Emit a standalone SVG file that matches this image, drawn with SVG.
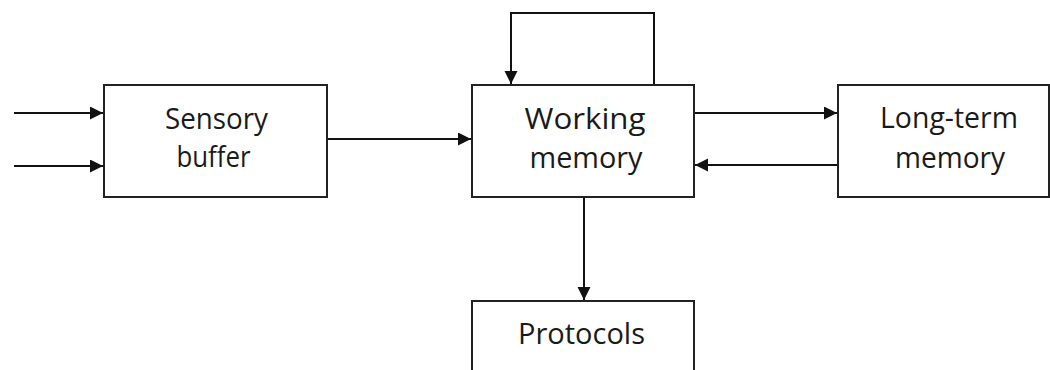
<svg xmlns="http://www.w3.org/2000/svg" width="1050" height="370" viewBox="0 0 1050 370">
<style>
.box{fill:#fff;stroke:#222;stroke-width:2}
.lbl{font-family:"Open Sans","Noto Sans","Liberation Sans",sans-serif;font-size:30px;fill:#1a1a1a;text-anchor:middle}
.con{fill:none;stroke:#111;stroke-width:2}
</style>
<defs>
<marker id="ah" markerWidth="15" markerHeight="15" refX="13" refY="6.5" orient="auto" markerUnits="userSpaceOnUse">
<path d="M0,0 L13,6.5 L0,13 Z" fill="#111"/>
</marker>
</defs>
<rect width="1050" height="370" fill="#fff"/>
<g id="connectors">
<line class="con" x1="14" y1="113" x2="103" y2="113" marker-end="url(#ah)"/>
<line class="con" x1="14" y1="166" x2="103" y2="166" marker-end="url(#ah)"/>
<line class="con" x1="327" y1="139" x2="471" y2="139" marker-end="url(#ah)"/>
<polyline class="con" points="654,85 654,13 511,13 511,84" marker-end="url(#ah)"/>
<line class="con" x1="694" y1="113" x2="837" y2="113" marker-end="url(#ah)"/>
<line class="con" x1="838" y1="165" x2="695" y2="165" marker-end="url(#ah)"/>
<line class="con" x1="584" y1="197" x2="584" y2="300" marker-end="url(#ah)"/>
</g>
<g id="sensory">
<rect class="box" x="104" y="85" width="223" height="112"/>
<text class="lbl" x="216.5" y="129" textLength="103" lengthAdjust="spacingAndGlyphs">Sensory</text>
<text class="lbl" x="213.5" y="167" textLength="74" lengthAdjust="spacingAndGlyphs">buffer</text>
</g>
<g id="working">
<rect class="box" x="472" y="85" width="222" height="112"/>
<text class="lbl" x="585" y="129" textLength="121" lengthAdjust="spacingAndGlyphs">Working</text>
<text class="lbl" x="586" y="168" textLength="113" lengthAdjust="spacingAndGlyphs">memory</text>
</g>
<g id="longterm">
<rect class="box" x="838" y="85" width="211" height="112"/>
<text class="lbl" x="949" y="128" textLength="138" lengthAdjust="spacingAndGlyphs">Long-term</text>
<text class="lbl" x="950" y="168" textLength="110" lengthAdjust="spacingAndGlyphs">memory</text>
</g>
<g id="protocols">
<rect class="box" x="472" y="301" width="222" height="80"/>
<text class="lbl" x="581.5" y="344" textLength="127" lengthAdjust="spacingAndGlyphs">Protocols</text>
</g>
</svg>
